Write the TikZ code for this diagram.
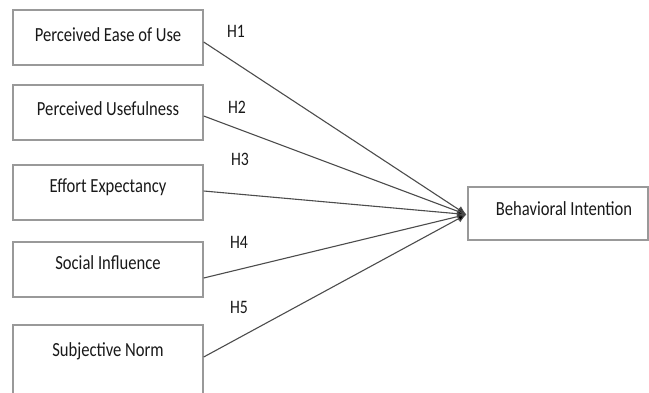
\documentclass[tikz,border=0pt]{standalone}
\usepackage{fontspec}
\setmainfont{Carlito}
\usetikzlibrary{arrows.meta}
\newcommand{\bt}[1]{\scalebox{0.83}[1]{#1}}
\tikzset{
  cbox/.style={draw=black!40, line width=1.4pt, rectangle, minimum width=190pt, minimum height=55pt, inner sep=0pt, fill=white},
  ctext/.style={font=\fontsize{20}{24}\selectfont, text=black!90, inner sep=0pt},
  hlab/.style={font=\fontsize{19}{22}\selectfont, text=black!90, inner sep=0pt},
  link/.style={draw=black!70, line width=1.1pt, -{Latex[length=9pt,width=8pt,fill=black]}}
}
\begin{document}
\begin{tikzpicture}[x=1pt,y=-1pt]
\useasboundingbox (0,0) rectangle (649,392);
\clip (0,0) rectangle (649,392);
\node[cbox] (b1) at (108,37.5) {};
\node[cbox] (b2) at (108,112.5) {};
\node[cbox] (b3) at (108,192.5) {};
\node[cbox] (b4) at (108,269.5) {};
\node[cbox, minimum height=72pt] (b5) at (108,361) {};
\node[cbox, minimum width=180pt, minimum height=53pt] (bi) at (558,213.5) {};
\node[ctext] (t1) at (108,35) {\bt{Perceived Ease of Use}};
\node[ctext] (t2) at (108,109) {\bt{Perceived Usefulness}};
\node[ctext] (t3) at (108,187) {\bt{Effort Expectancy}};
\node[ctext] (t4) at (108,263) {\bt{Social Influence}};
\node[ctext] (t5) at (108,351) {\bt{Subjective Norm}};
\node[ctext] (ti) at (564,209) {\bt{Behavioral Intention}};
\node[hlab] (h1) at (236,31) {\bt{H1}};
\node[hlab] (h2) at (237,107) {\bt{H2}};
\node[hlab] (h3) at (240,159) {\bt{H3}};
\node[hlab] (h4) at (239,242) {\bt{H4}};
\node[hlab] (h5) at (239,307) {\bt{H5}};
\coordinate (tip) at ([xshift=-1pt,yshift=-1pt]bi.west);
\draw[link] ([yshift=-4.5pt]b1.east) -- (tip);
\draw[link] ([yshift=-3.5pt]b2.east) -- (tip);
\draw[link] ([yshift=1.5pt]b3.east) -- (tip);
\draw[link] ([yshift=-8.5pt]b4.east) -- (tip);
\draw[link] ([yshift=4pt]b5.east) -- (tip);
\end{tikzpicture}
\end{document}
